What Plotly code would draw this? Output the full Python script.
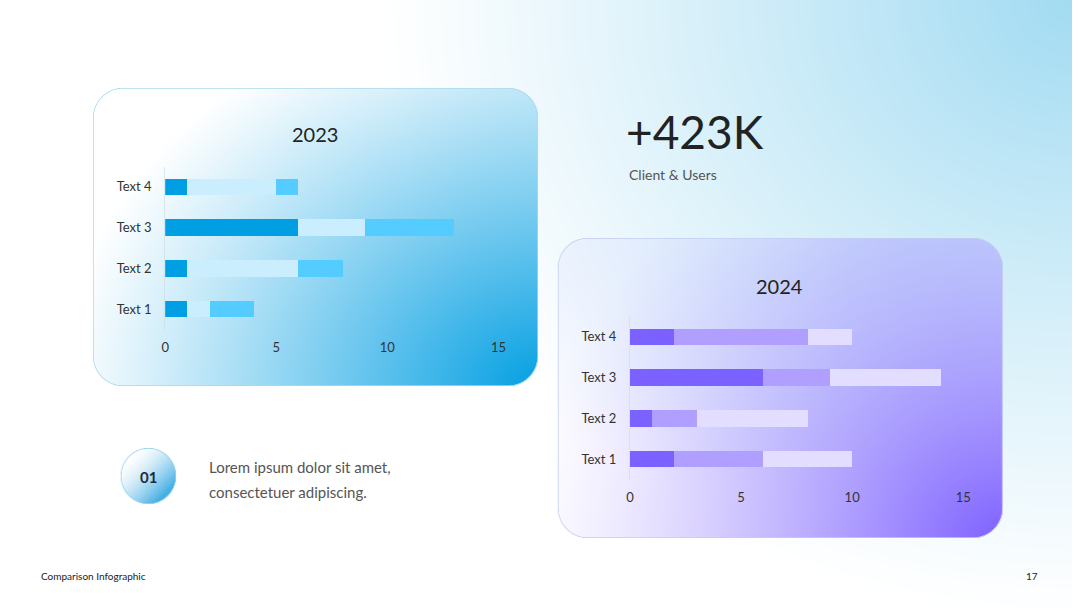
import base64, struct, zlib
import numpy as np
import plotly.graph_objects as go

# ---------------- data ----------------
categories = ["Text 1", "Text 2", "Text 3", "Text 4"]
s2023_dark = [1, 1, 6, 1]
s2023_light = [1, 5, 3, 4]
s2023_mid = [2, 2, 4, 1]
s2024_dark = [2, 1, 6, 2]
s2024_mid = [4, 2, 3, 6]
s2024_light = [4, 5, 5, 2]
x_ticks = [0, 5, 10, 15]

W, H = 1080, 608

# ---------------- background image (decoration) ----------------
yy, xx = np.mgrid[0:H, 0:W].astype(float)
xx += 0.5
yy += 0.5

def lerp(a, b, t):
    return a + (b - a) * t[..., None]

white = np.array([255.0, 255.0, 255.0])
glow = np.array([162.0, 219.0, 242.0])
dn = np.sqrt(((xx - W) / 700.0) ** 2 + (yy / 620.0) ** 2)
wg = np.clip(1 - dn, 0, 1) ** 1.1
img = lerp(np.broadcast_to(white, (H, W, 3)), glow, wg)

def rr_sdf(x0, y0, x1, y1, r):
    cx, cy = (x0 + x1) / 2, (y0 + y1) / 2
    bx, by = (x1 - x0) / 2 - r, (y1 - y0) / 2 - r
    qx = np.abs(xx - cx) - bx
    qy = np.abs(yy - cy) - by
    out = np.sqrt(np.maximum(qx, 0) ** 2 + np.maximum(qy, 0) ** 2)
    return out + np.minimum(np.maximum(qx, qy), 0) - r

def paint(img, mask_d, color_img, border_col):
    a = np.clip(0.5 - mask_d, 0, 1)
    img = img * (1 - a[..., None]) + color_img * a[..., None]
    b = np.clip(1.0 - np.abs(mask_d + 0.3) / 0.8, 0, 1)
    img = img * (1 - b[..., None]) + np.array(border_col, float) * b[..., None]
    return img

# card 1 (2023)
c1 = (90, 88, 540, 386)
d1 = np.sqrt(((xx - 545) / 490.0) ** 2 + ((yy - 392) / 400.0) ** 2)
w1 = np.clip(1 - d1, 0, 1) ** 1.1
base1 = lerp(np.broadcast_to(white, (H, W, 3)), glow, wg * 0.8)
card1 = lerp(base1, np.array([0.0, 158.0, 226.0]), w1)
img = paint(img, rr_sdf(*c1, 30), card1, (170, 218, 238))

# card 2 (2024)
c2 = (560, 238, 1010, 538)
d2 = np.sqrt(((xx - 1015) / 500.0) ** 2 + ((yy - 545) / 440.0) ** 2)
w2 = np.clip(1 - d2, 0, 1) ** 1.3
dt = np.sqrt(((xx - 900) / 520.0) ** 2 + ((yy - 238) / 270.0) ** 2)
wt = np.clip(1 - dt, 0, 1) * 0.5
base2 = lerp(np.broadcast_to(white, (H, W, 3)), glow, wg * 0.7)
base2 = lerp(base2, np.array([185.0, 200.0, 252.0]), wt)
card2 = lerp(base2, np.array([124.0, 94.0, 255.0]), w2)
img = paint(img, rr_sdf(*c2, 30), card2, (196, 205, 242))

# circle badge
cx, cy, cr = 146, 476, 28
dc = np.sqrt((xx - cx) ** 2 + (yy - cy) ** 2) - cr
tc = np.clip(((xx - (cx - 20)) + (yy - (cy - 20))) / 75.0, 0, 1) ** 1.6
circ = lerp(np.broadcast_to(white, (H, W, 3)), np.array([70.0, 175.0, 228.0]), tc)
img = paint(img, dc, circ, (150, 210, 236))

img8 = np.clip(np.round(img), 0, 255).astype(np.uint8)

def to_png(arr):
    h, w, _ = arr.shape
    raw = b"".join(b"\x00" + arr[i].tobytes() for i in range(h))
    def chunk(t, d):
        c = struct.pack(">I", len(d)) + t + d
        return c + struct.pack(">I", zlib.crc32(t + d) & 0xFFFFFFFF)
    return (b"\x89PNG\r\n\x1a\n" + chunk(b"IHDR", struct.pack(">IIBBBBB", w, h, 8, 2, 0, 0, 0))
            + chunk(b"IDAT", zlib.compress(raw, 9)) + chunk(b"IEND", b""))

bg_uri = "data:image/png;base64," + base64.b64encode(to_png(img8)).decode()

# ---------------- figure ----------------
FONT = "Lato"
fig = go.Figure()
bw = 0.4
for vals, col, nm in [(s2023_dark, "#009FE3", "A"), (s2023_light, "#CBEEFF", "B"), (s2023_mid, "#55CCFF", "C")]:
    fig.add_trace(go.Bar(y=categories, x=vals, orientation="h", marker=dict(color=col, line_width=0),
                         width=bw, name=nm, xaxis="x", yaxis="y", showlegend=False))
for vals, col, nm in [(s2024_dark, "#7B61FF", "A"), (s2024_mid, "#B09FFF", "B"), (s2024_light, "#E3DEFF", "C")]:
    fig.add_trace(go.Bar(y=categories, x=vals, orientation="h", marker=dict(color=col, line_width=0),
                         width=bw, name=nm, xaxis="x2", yaxis="y2", showlegend=False))

def px(x):
    return x / W

def py(y):
    return 1 - y / H

axfont = dict(family=FONT, size=13, color="#333333")
xcommon = dict(range=[0, 15], tickvals=x_ticks, showgrid=False, zeroline=False, showline=False,
               ticks="", tickfont=axfont, ticklabelstandoff=8, fixedrange=True)
ycommon = dict(type="category", categoryorder="array", categoryarray=categories, range=[-0.5, 3.5],
               showgrid=False, zeroline=False, showline=True, linecolor="rgba(200,220,232,0.6)",
               linewidth=1, ticks="", tickfont=axfont, ticklabelstandoff=10, fixedrange=True)

fig.update_layout(
    width=W, height=H, margin=dict(l=0, r=0, t=0, b=0),
    paper_bgcolor="white", plot_bgcolor="rgba(0,0,0,0)",
    barmode="stack", bargap=0.6,
    xaxis=dict(domain=[px(163), px(500)], anchor="y", **xcommon),
    yaxis=dict(domain=[py(329.5), py(166.5)], anchor="x", **ycommon),
    xaxis2=dict(domain=[px(633), px(970)], anchor="y2", **xcommon),
    yaxis2=dict(domain=[py(479.5), py(316.5)], anchor="x2", **ycommon),
    images=[dict(source=bg_uri, xref="paper", yref="paper", x=0, y=1, sizex=1, sizey=1,
                 xanchor="left", yanchor="top", sizing="stretch", layer="below")],
)

def note(x, y, text, size, color, xanchor="left", family=FONT, bold=False):
    if bold:
        text = "<b>" + text + "</b>"
    fig.add_annotation(x=px(x), y=py(y), xref="paper", yref="paper", text=text, showarrow=False,
                       xanchor=xanchor, yanchor="middle", font=dict(family=family, size=size, color=color))

note(314, 134, "2023", 20, "#222222", xanchor="center")
note(784, 286, "2024", 20, "#222222", xanchor="center")
note(627, 131, "+423K", 46, "#222222")
note(630, 175, "Client &amp; Users", 14, "#555555")
note(146, 477, "01", 15, "#1E2B3A", xanchor="center", bold=True)
note(205, 467, "Lorem ipsum dolor sit amet,", 15, "#555555")
note(205, 492, "consectetuer adipiscing.", 15, "#555555")
note(35, 576, "Comparison Infographic", 10, "#222222")
note(1048, 576, "17", 10, "#222222", xanchor="right")

fig.write_html("out.html")
